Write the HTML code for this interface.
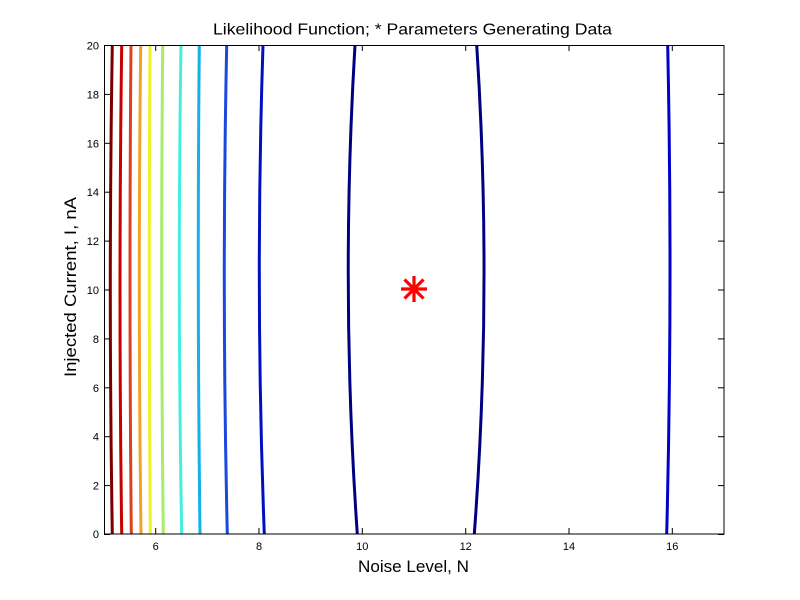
<!DOCTYPE html>
<html><head><meta charset="utf-8"><style>
html,body{margin:0;padding:0;background:#fff;}
svg{display:block;}
text{font-family:"Liberation Sans",Arial,sans-serif;fill:#000;}
</style></head><body>
<svg width="800" height="600" viewBox="0 0 800 600" xmlns="http://www.w3.org/2000/svg">
<rect x="0" y="0" width="800" height="600" fill="#fff"/>
<g fill="none" stroke-width="3" stroke-linecap="butt">
<path d="M112.3,534 Q108.3,289.5 112.3,45" stroke="#7a0000"/>
<path d="M121.7,534 Q118.3,289.5 121.7,45" stroke="#c80000"/>
<path d="M131.3,534 Q128.85,289.5 131,45" stroke="#dc4020"/>
<path d="M141,534 Q137.75,289.5 140.7,45" stroke="#f0a228"/>
<path d="M150.3,534 Q148.45,289.5 150,45" stroke="#eef028"/>
<path d="M163.3,534 Q160.4,289.5 162.7,45" stroke="#a4ee6c"/>
<path d="M181.7,534 Q177.25,289.5 181,45" stroke="#44eee0"/>
<path d="M200,534 Q196.95,289.5 199.3,45" stroke="#14b0e6"/>
<path d="M227.3,534 Q221.6,289.5 226.7,45" stroke="#1848dc"/>
<path d="M264.3,534 Q255,289.5 263,45" stroke="#0010c0"/>
<path d="M357.3,534 Q340.4,289.5 355,45" stroke="#000082"/>
<path d="M474.3,534 Q492.5,289.5 476.7,45" stroke="#000082"/>
<path d="M666.7,534 Q672.8,289.5 667.7,45" stroke="#0000c8"/>
</g>
<g stroke="#ff0000" stroke-width="3.2" stroke-linecap="butt">
<line x1="401" y1="289" x2="427" y2="289"/>
<line x1="414" y1="276" x2="414" y2="302"/>
<line x1="404.5" y1="279.5" x2="423.5" y2="298.5"/>
<line x1="404.5" y1="298.5" x2="423.5" y2="279.5"/>
</g>
<rect x="104.5" y="45.5" width="619.5" height="488.5" fill="none" stroke="#000" stroke-width="1"/>
<g stroke="#000" stroke-width="1">
<line x1="155.7" y1="534" x2="155.7" y2="528"/><line x1="155.7" y1="45" x2="155.7" y2="51"/>
<line x1="259" y1="534" x2="259" y2="528"/><line x1="259" y1="45" x2="259" y2="51"/>
<line x1="362.3" y1="534" x2="362.3" y2="528"/><line x1="362.3" y1="45" x2="362.3" y2="51"/>
<line x1="465.7" y1="534" x2="465.7" y2="528"/><line x1="465.7" y1="45" x2="465.7" y2="51"/>
<line x1="569" y1="534" x2="569" y2="528"/><line x1="569" y1="45" x2="569" y2="51"/>
<line x1="672.3" y1="534" x2="672.3" y2="528"/><line x1="672.3" y1="45" x2="672.3" y2="51"/>
<line x1="104" y1="534.5" x2="110" y2="534.5"/><line x1="724" y1="534.5" x2="718" y2="534.5"/>
<line x1="104" y1="485.6" x2="110" y2="485.6"/><line x1="724" y1="485.6" x2="718" y2="485.6"/>
<line x1="104" y1="436.7" x2="110" y2="436.7"/><line x1="724" y1="436.7" x2="718" y2="436.7"/>
<line x1="104" y1="387.8" x2="110" y2="387.8"/><line x1="724" y1="387.8" x2="718" y2="387.8"/>
<line x1="104" y1="338.9" x2="110" y2="338.9"/><line x1="724" y1="338.9" x2="718" y2="338.9"/>
<line x1="104" y1="290" x2="110" y2="290"/><line x1="724" y1="290" x2="718" y2="290"/>
<line x1="104" y1="241.1" x2="110" y2="241.1"/><line x1="724" y1="241.1" x2="718" y2="241.1"/>
<line x1="104" y1="192.2" x2="110" y2="192.2"/><line x1="724" y1="192.2" x2="718" y2="192.2"/>
<line x1="104" y1="143.3" x2="110" y2="143.3"/><line x1="724" y1="143.3" x2="718" y2="143.3"/>
<line x1="104" y1="94.4" x2="110" y2="94.4"/><line x1="724" y1="94.4" x2="718" y2="94.4"/>
<line x1="104" y1="45.5" x2="110" y2="45.5"/><line x1="724" y1="45.5" x2="718" y2="45.5"/>
</g>
<g font-size="11" text-anchor="middle">
<text x="155.7" y="550">6</text>
<text x="259" y="550">8</text>
<text x="362.3" y="550">10</text>
<text x="465.7" y="550">12</text>
<text x="569" y="550">14</text>
<text x="672.3" y="550">16</text>
</g>
<g font-size="11" text-anchor="end">
<text x="99" y="538">0</text>
<text x="99" y="489.6">2</text>
<text x="99" y="440.7">4</text>
<text x="99" y="391.8">6</text>
<text x="99" y="342.9">8</text>
<text x="99" y="294">10</text>
<text x="99" y="245.1">12</text>
<text x="99" y="196.2">14</text>
<text x="99" y="147.3">16</text>
<text x="99" y="98.4">18</text>
<text x="99" y="49.5">20</text>
</g>
<text x="412.5" y="34.5" font-size="16" text-anchor="middle" textLength="399" lengthAdjust="spacingAndGlyphs">Likelihood Function; * Parameters Generating Data</text>
<text x="413.5" y="572" font-size="17" text-anchor="middle" textLength="111" lengthAdjust="spacingAndGlyphs">Noise Level, N</text>
<text x="0" y="0" font-size="17" text-anchor="middle" textLength="180" lengthAdjust="spacingAndGlyphs" transform="translate(76,287) rotate(-90)">Injected Current, I, nA</text>
</svg>
</body></html>
